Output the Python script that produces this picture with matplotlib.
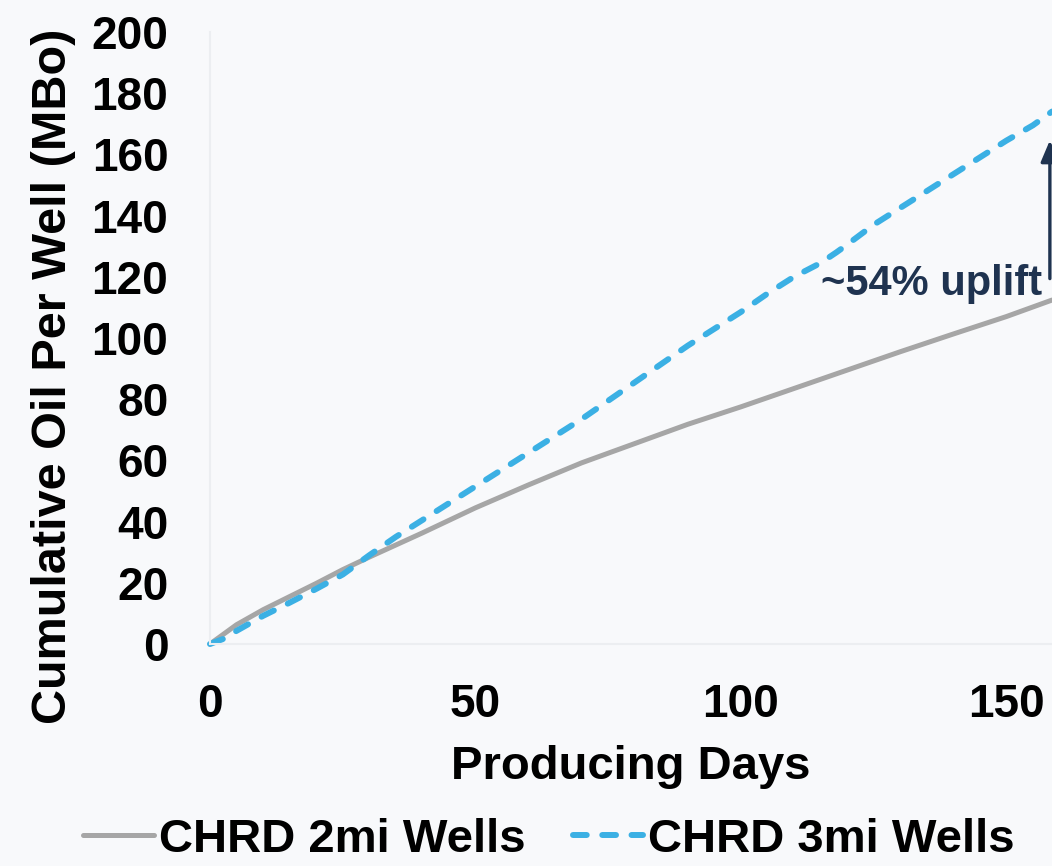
import numpy as np
import matplotlib
matplotlib.use("Agg")
from matplotlib import pyplot as plt

# data
days_2mi = [0, 5, 10, 15, 20, 25, 30, 40, 50, 60, 70, 80, 90, 100, 110, 120, 130, 140, 150, 158.6]
oil_2mi = [0, 6.3, 11.2, 15.5, 19.8, 24.3, 28.4, 36.3, 44.5, 52, 59.2, 65.5, 71.8, 77.5, 83.5, 89.5, 95.5, 101.3, 107, 112.4]

days_3mi = [0, 3, 5, 10, 15, 20, 25, 30, 35, 40, 45, 50, 55, 60, 65, 70, 75, 80, 85, 90,
            95, 100, 105, 110, 115, 118, 120, 125, 130, 135, 140, 145, 150, 155, 158.6]
oil_3mi = [0, 2, 4.3, 9.2, 13.5, 18, 22.7, 29, 35, 40.5, 46, 51.5, 57, 62.5, 68, 73.5, 79.5, 85.5, 91.5, 97.5,
           103, 108.5, 114.5, 120, 124.5, 128, 130.5, 137, 142.5, 148, 153.5, 159, 164.5, 169.5, 174]

x_ticks = [0, 50, 100, 150]
y_ticks = [0, 20, 40, 60, 80, 100, 120, 140, 160, 180, 200]

bg = "#f8f9fb"
grey = "#a6a6a6"
blue = "#3bb0e4"
navy = "#1f3350"

plt.rcParams["font.family"] = ["Liberation Sans", "DejaVu Sans"]
plt.rcParams["font.weight"] = "bold"

fig = plt.figure(figsize=(10.52, 8.66), dpi=100, facecolor=bg)
ax = fig.add_axes([210 / 1052, 222 / 866, 842 / 1052, 612 / 866], facecolor=bg)

ax.plot(days_2mi, oil_2mi, color=grey, lw=3.6, solid_capstyle="round", label="CHRD 2mi Wells", clip_on=False)
ax.plot(days_3mi, oil_3mi, color=blue, lw=4.3, dashes=(2.3, 2.6), dash_capstyle="round",
        label="CHRD 3mi Wells", clip_on=False)

ax.set_xlim(0, 158.6)
ax.set_ylim(0, 200)
ax.set_xticks(x_ticks)
ax.set_yticks(y_ticks)
ax.tick_params(length=0, labelsize=33)
ax.tick_params(axis="y", pad=30)
ax.tick_params(axis="x", pad=28)

for s in ["top", "right"]:
    ax.spines[s].set_visible(False)
for s in ["left", "bottom"]:
    ax.spines[s].set_color("#eceef1")
    ax.spines[s].set_linewidth(1.5)

ax.set_xlabel("Producing Days", fontsize=34, fontweight="bold", labelpad=13)
fig.text(54 / 1052, 1 - 376 / 866, "Cumulative Oil Per Well (MBo)", rotation=90,
         ha="center", va="center", fontsize=35, fontweight="bold")

# uplift arrow and label
ax.annotate("", xy=(158.2, 165.5), xytext=(158.2, 118.5),
            arrowprops=dict(arrowstyle="-|>,head_width=0.55,head_length=1.3", color=navy, lw=2.4),
            annotation_clip=False)
ax.text(156.8, 117.5, "~54% uplift", ha="right", va="center", fontsize=30, fontweight="bold", color=navy)

fig.legend(loc="center", bbox_to_anchor=(549 / 1052, 1 - 840 / 866), ncol=2, frameon=False,
           handlelength=1.5, handletextpad=0.1, columnspacing=1.0,
           prop={"weight": "bold", "size": 34})

fig.savefig("out.png", dpi=100, facecolor=bg)
